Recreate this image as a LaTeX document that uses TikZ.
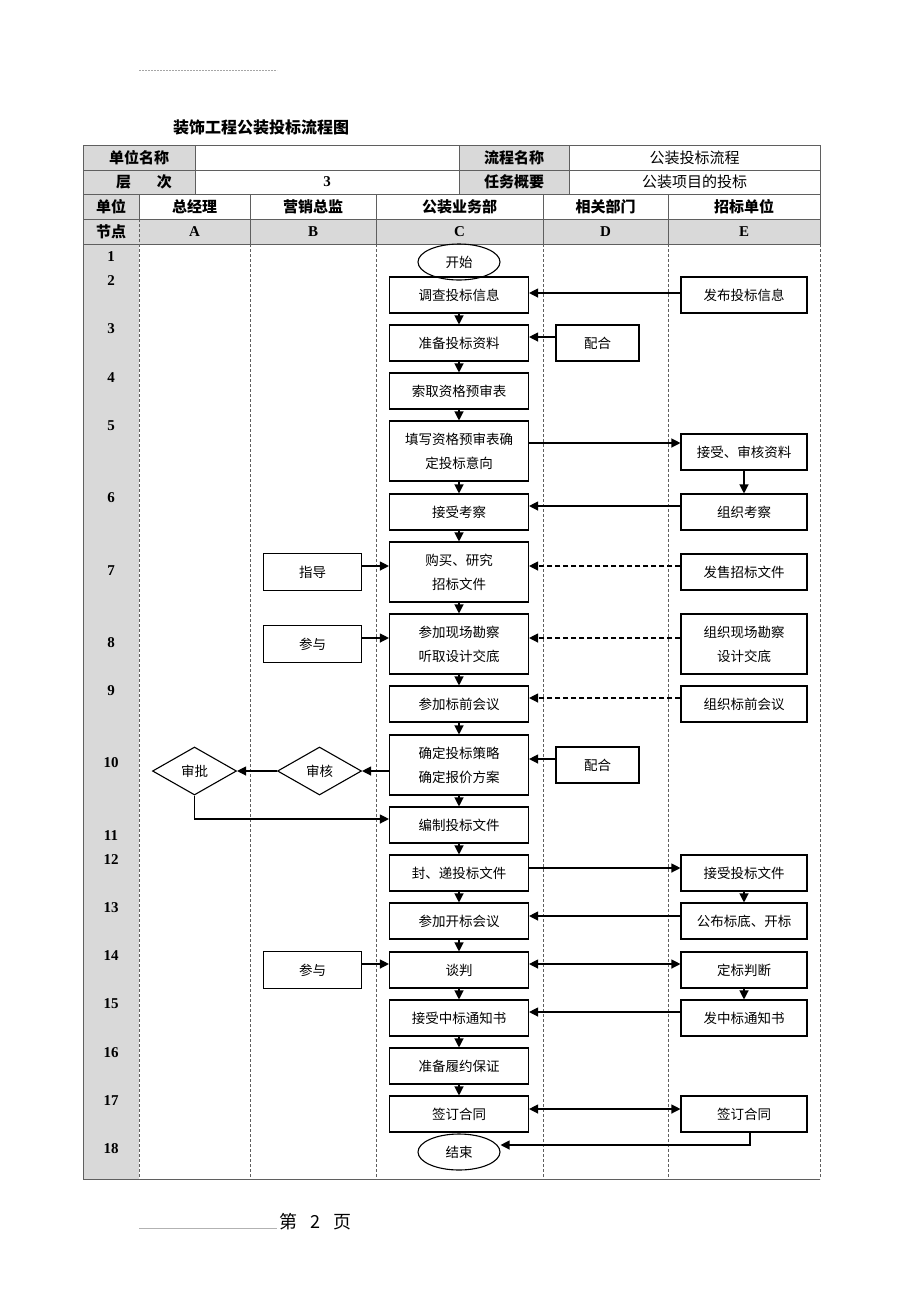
\documentclass[tikz,border=0pt]{standalone}
\usepackage{fontspec}
\setmainfont{Liberation Serif}
\newfontfamily\cjk{Noto Sans CJK SC}
\usetikzlibrary{arrows.meta,shapes.geometric,calc}
\definecolor{hdgray}{RGB}{217,217,217}
\definecolor{rulegray}{RGB}{95,95,95}

\begin{document}
\begin{tikzpicture}[x=1pt, y=-1pt, >={Triangle[length=9pt,width=9pt]},
  every node/.style={font=\cjk\fontsize{13.5}{24}\selectfont, inner sep=0pt},
  box/.style={draw, line width=1.1pt, minimum width=139pt, minimum height=36pt, align=center},
  tallbox/.style={box, minimum height=60pt},
  ebox/.style={box, minimum width=126pt},
  dbox/.style={box, minimum width=83pt},
  bbox/.style={box, minimum width=98pt, minimum height=37pt},
  oval/.style={draw, ellipse, line width=1.1pt, minimum width=82pt, minimum height=36pt},
  dia/.style={draw, diamond, aspect=1.75, line width=1.1pt, minimum width=84pt, minimum height=48pt},
  arr/.style={->, line width=1.2pt},
  darr/.style={arr, dash pattern=on 5pt off 3pt},
  barr/.style={<->, line width=1.2pt},
  hd/.style={font=\cjk\bfseries\fontsize{15}{15}\selectfont},
  vl/.style={font=\cjk\fontsize{15}{15}\selectfont},
  lt/.style={font=\rmfamily\bfseries\fontsize{15}{15}\selectfont},
  rl/.style={rulegray, line width=1pt},
  dl/.style={rulegray, line width=0.8pt, dash pattern=on 3pt off 2pt}]
\useasboundingbox (0,0) rectangle (920,1302);

\draw[gray!70, line width=0.5pt, dash pattern=on 2pt off 1pt] (139,70) -- (277,70);
\node[font=\cjk\bfseries\fontsize{16}{16}\selectfont] (title) at (261,127) {装饰工程公装投标流程图};

\fill[hdgray] (83,145) rectangle (195,194);
\fill[hdgray] (459,145) rectangle (569,194);
\fill[hdgray] (83,194) rectangle (139,219);
\fill[hdgray] (83,219) rectangle (820,244);
\fill[hdgray] (83,244) rectangle (139,1179);

\foreach \y in {145,170,194,219,244}
  \draw[rl] (83,\y) -- (820,\y);
\draw[rl] (83,145) -- (83,1179) -- (820,1179);
\draw[rl] (820,145) -- (820,244);
\foreach \x in {195,459,569}
  \draw[rl] (\x,145) -- (\x,194);
\draw[rl] (139,194) -- (139,219);
\foreach \x in {250,376,543,668}
  \draw[rl] (\x,194) -- (\x,244);
\draw[dl] (139,219) -- (139,244);
\foreach \x in {139,250,376,543,668,820}
  \draw[dl] (\x,244) -- (\x,1179);

\node[hd] (lbname) at (139,157.5) {单位名称};
\node[hd] (lblevel) at (144,182) {层\hspace{26pt}次};
\node[lt] (vlevel) at (327,182) {3};
\node[hd] (lbflow) at (514,157.5) {流程名称};
\node[hd] (lbtask) at (514,182) {任务概要};
\node[vl] (vflow) at (694.5,157.5) {公装投标流程};
\node[vl] (vtask) at (694.5,182) {公装项目的投标};

\node[hd] (unit) at (111,206.5) {单位};
\node[hd] (ua) at (194.5,206.5) {总经理};
\node[hd] (ub) at (313,206.5) {营销总监};
\node[hd] (uc) at (459.5,206.5) {公装业务部};
\node[hd] (ud) at (605.5,206.5) {相关部门};
\node[hd] (ue) at (744,206.5) {招标单位};
\node[hd] (step) at (111,231.5) {节点};
\foreach \l/\x in {A/194.5,B/313,C/459.5,D/605.5,E/744}
  \node[lt] (col\l) at (\x,231.5) {\l};

\foreach \n/\y in {1/257,2/281,3/329,4/378,5/426,6/498,7/571,8/643,9/691,10/763,11/836,12/860,13/908,14/956,15/1004,16/1053,17/1101,18/1149}
  \node[lt] (row\n) at (111,\y) {\n};

\node[oval] (start) at (459,262) {开始};
\node[box] (c2) at (459,295) {调查投标信息};
\node[box] (c3) at (459,343) {准备投标资料};
\node[box] (c4) at (459,391) {索取资格预审表};
\node[tallbox] (c5) at (459,451) {填写资格预审表确\\定投标意向};
\node[box] (c6) at (459,512) {接受考察};
\node[tallbox] (c7) at (459,572) {购买、研究\\招标文件};
\node[tallbox] (c8) at (459,644) {参加现场勘察\\听取设计交底};
\node[box] (c9) at (459,704) {参加标前会议};
\node[tallbox] (c10) at (459,765) {确定投标策略\\确定报价方案};
\node[box] (c11) at (459,825) {编制投标文件};
\node[box] (c12) at (459,873) {封、递投标文件};
\node[box] (c13) at (459,921) {参加开标会议};
\node[box] (c14) at (459,970) {谈判};
\node[box] (c15) at (459,1018) {接受中标通知书};
\node[box] (c16) at (459,1066) {准备履约保证};
\node[box] (c17) at (459,1114) {签订合同};
\node[oval] (finish) at (459,1152) {结束};

\node[ebox] (e2) at (744,295) {发布投标信息};
\node[ebox] (e5) at (744,452) {接受、审核资料};
\node[ebox] (e6) at (744,512) {组织考察};
\node[ebox] (e7) at (744,572) {发售招标文件};
\node[ebox, minimum height=60pt] (e8) at (744,644) {组织现场勘察\\设计交底};
\node[ebox] (e9) at (744,704) {组织标前会议};
\node[ebox] (e12) at (744,873) {接受投标文件};
\node[ebox] (e13) at (744,921) {公布标底、开标};
\node[ebox] (e14) at (744,970) {定标判断};
\node[ebox] (e15) at (744,1018) {发中标通知书};
\node[ebox] (e17) at (744,1114) {签订合同};

\node[dbox] (d3) at (597.5,343) {配合};
\node[dbox] (d10) at (597.5,765) {配合};

\node[bbox] (b7) at (312.5,572) {指导};
\node[bbox] (b8) at (312.5,644) {参与};
\node[bbox] (b14) at (312.5,970) {参与};
\node[dia] (b10) at (319.5,771) {审核};
\node[dia] (a10) at (194.5,771) {审批};

\foreach \a/\b in {c2/c3,c3/c4,c4/c5,c5/c6,c6/c7,c7/c8,c8/c9,c9/c10,c10/c11,c11/c12,c12/c13,c13/c14,c14/c15,c15/c16,c16/c17,e5/e6,e12/e13,e14/e15}
  \draw[arr] (\a) -- (\b);

\draw[arr] ([yshift=2pt]e2.west) -- ([yshift=2pt]c2.east);
\draw[arr] ([yshift=6pt]d3.west) -- ([yshift=6pt]c3.east);
\draw[arr] ([yshift=8pt]c5.east) -- ([yshift=8pt]c5.east -| e5.west);
\draw[arr] ([yshift=6pt]e6.west) -- ([yshift=6pt]c6.east);
\draw[darr] ([yshift=6pt]e7.west) -- ([yshift=6pt]c7.east);
\draw[arr] ([yshift=6pt]b7.east) -- ([yshift=6pt]c7.west);
\draw[darr] ([yshift=6pt]e8.west) -- ([yshift=6pt]c8.east);
\draw[arr] ([yshift=6pt]b8.east) -- ([yshift=6pt]c8.west);
\draw[darr] ([yshift=6pt]e9.west) -- ([yshift=6pt]c9.east);
\draw[arr] ([yshift=6pt]d10.west) -- ([yshift=6pt]c10.east);
\draw[arr] ([yshift=-6pt]c10.west) -- (b10.east);
\draw[arr] (b10.west) -- (a10.east);
\draw[arr] (a10.south) |- ([yshift=6pt]c11.west);
\draw[arr] ([yshift=5pt]c12.east) -- ([yshift=5pt]e12.west);
\draw[arr] ([yshift=5pt]e13.west) -- ([yshift=5pt]c13.east);
\draw[arr] ([yshift=6pt]b14.east) -- ([yshift=6pt]c14.west);
\draw[barr] ([yshift=6pt]c14.east) -- ([yshift=6pt]e14.west);
\draw[arr] ([yshift=6pt]e15.west) -- ([yshift=6pt]c15.east);
\draw[barr] ([yshift=5pt]c17.east) -- ([yshift=5pt]e17.west);
\draw[arr] ([xshift=6pt]e17.south) |- ([yshift=7pt]finish.east);

\draw[gray!60, line width=0.5pt] (139,1228) -- (277,1228);
\node[anchor=west, font=\cjk\fontsize{18}{18}\selectfont] (page) at (279,1222) {第\hspace{13pt}2\hspace{13pt}页};
\end{tikzpicture}
\end{document}
